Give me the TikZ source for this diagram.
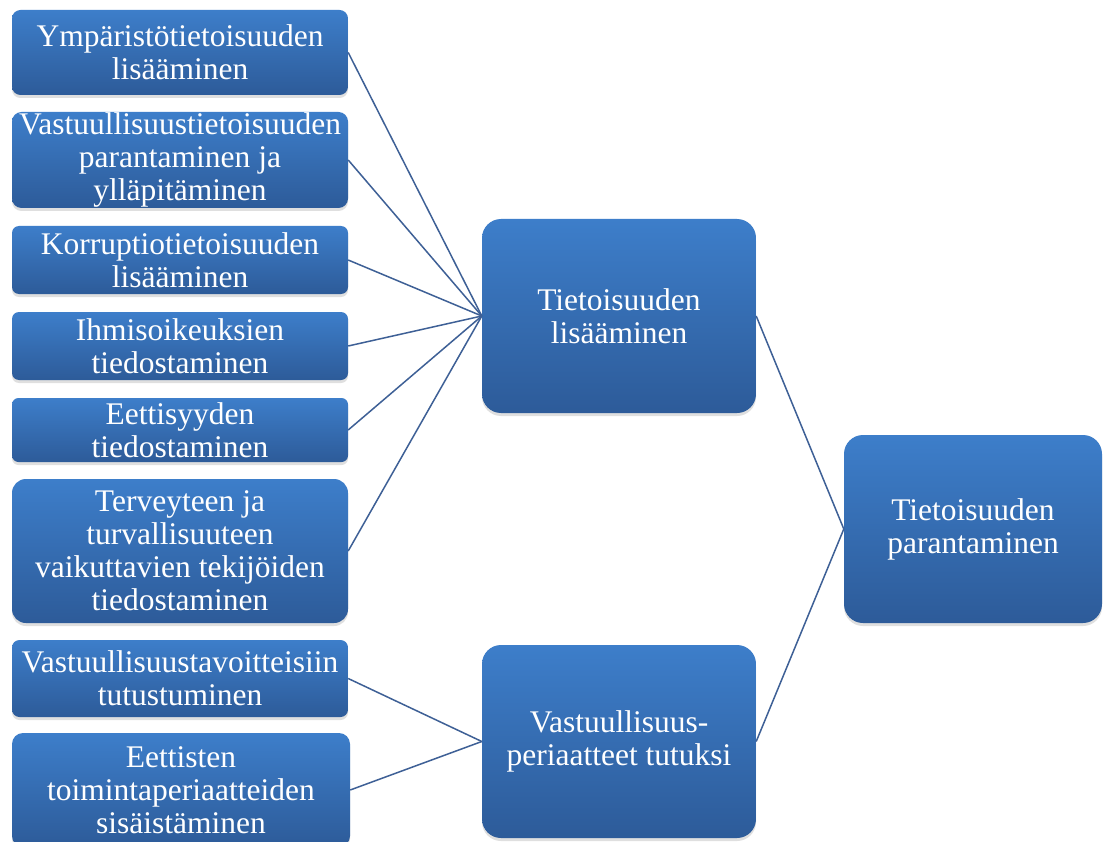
\documentclass[tikz,border=0pt]{standalone}
\usepackage{fontspec}
\setmainfont{Liberation Serif}
\usetikzlibrary{shadows}
\definecolor{boxtop}{RGB}{61,126,202}
\definecolor{boxbot}{RGB}{45,91,153}
\definecolor{linec}{RGB}{62,96,150}
\tikzset{
  box/.style={rectangle, inner sep=0pt, text=white, align=center,
    font=\fontsize{31.5}{33}\selectfont,
    top color=boxtop, bottom color=boxbot,
    drop shadow={shadow xshift=0pt, shadow yshift=-3pt, opacity=0.25}},
  conn/.style={draw=linec, line width=1.5pt}
}
\begin{document}
\begin{tikzpicture}[x=1pt,y=-1pt]
\useasboundingbox (0,0) rectangle (1105,842);
\fill[white] (0,0) rectangle (1105,842);
% left column
\node[box, minimum width=336pt, minimum height=85pt, rounded corners=8.5pt] (b1) at (180,52.5) {Ympäristötietoisuuden\\lisääminen};
\node[box, minimum width=336pt, minimum height=96pt, rounded corners=9.5pt] (b2) at (180,160) {Vastuullisuustietoisuuden\\parantaminen ja\\ylläpitäminen};
\node[box, minimum width=336pt, minimum height=68pt, rounded corners=7pt] (b3) at (180,260) {Korruptiotietoisuuden\\lisääminen};
\node[box, minimum width=336pt, minimum height=68pt, rounded corners=7pt] (b4) at (180,346) {Ihmisoikeuksien\\tiedostaminen};
\node[box, minimum width=336pt, minimum height=64pt, rounded corners=6.5pt] (b5) at (180,430) {Eettisyyden\\tiedostaminen};
\node[box, minimum width=336pt, minimum height=144pt, rounded corners=14pt] (b6) at (180,551) {Terveyteen ja\\turvallisuuteen\\vaikuttavien tekijöiden\\tiedostaminen};
\node[box, minimum width=336pt, minimum height=77pt, rounded corners=7.5pt] (b7) at (180,678.5) {Vastuullisuustavoitteisiin\\tutustuminen};
\node[box, minimum width=338pt, minimum height=114pt, rounded corners=11pt] (b8) at (181,790) {Eettisten\\toimintaperiaatteiden\\sisäistäminen};
% middle column
\node[box, minimum width=274pt, minimum height=194pt, rounded corners=19pt] (m1) at (619,316) {Tietoisuuden\\lisääminen};
\node[box, minimum width=274pt, minimum height=193pt, rounded corners=19pt] (m2) at (619,741.5) {Vastuullisuus-\\periaatteet tutuksi};
% right
\node[box, minimum width=258pt, minimum height=188pt, rounded corners=19pt] (r) at (973,529) {Tietoisuuden\\parantaminen};
% connectors
\foreach \n in {b1,b2,b3,b4,b5,b6} \draw[conn] (\n.east) -- (m1.west);
\foreach \n in {b7,b8} \draw[conn] (\n.east) -- (m2.west);
\draw[conn] (m1.east) -- (r.west);
\draw[conn] (m2.east) -- (r.west);
\end{tikzpicture}
\end{document}
